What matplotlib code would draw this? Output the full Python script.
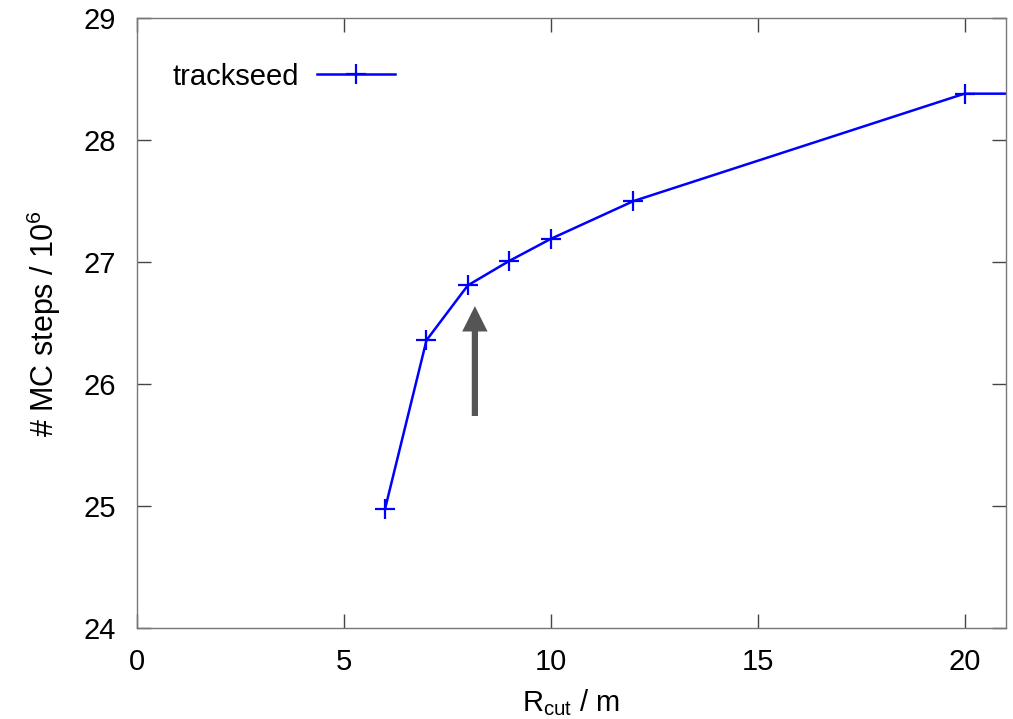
import matplotlib
matplotlib.use('Agg')
import matplotlib.pyplot as plt

plt.rcParams['font.family'] = ['Liberation Sans', 'DejaVu Sans']

# data
r_cut = [6, 7, 8, 9, 10, 12, 20, 30]
mc_steps = [24.98, 26.36, 26.81, 27.01, 27.19, 27.50, 28.38, 28.38]

fig = plt.figure(figsize=(10.13, 7.19), dpi=100)
ax = fig.add_axes([0.135, 0.126, 0.858, 0.849])

ax.plot(r_cut, mc_steps, color='#0000ff', lw=1.8, marker='+', ms=14, mew=1.6,
        label='trackseed')

# arrow pointing at the chosen R_cut
ax.annotate('', xy=(8.17, 26.64), xytext=(8.17, 25.74),
            arrowprops=dict(arrowstyle='-|>,head_length=1.1,head_width=0.55',
                            color='#555555', lw=4.5, shrinkA=0, shrinkB=0,
                            capstyle='butt', joinstyle='miter'))

ax.set_xlim(0, 21)
ax.set_ylim(24, 29)
ax.set_xticks([0, 5, 10, 15, 20])
ax.set_yticks([24, 25, 26, 27, 28, 29])

for s in ax.spines.values():
    s.set_color('#777777')
    s.set_linewidth(1)
ax.tick_params(direction='in', length=10, width=1, color='#444444',
               top=True, right=True, labelsize=21)
ax.tick_params(axis='x', pad=14)
ax.tick_params(axis='y', pad=15)

ax.set_xlabel(r'R$_{\mathregular{cut}}$ / m', fontsize=21, labelpad=8)
ax.set_ylabel(r'# MC steps / 10$^{\mathregular{6}}$', fontsize=22, labelpad=15)

ax.legend(loc='upper left', frameon=False, markerfirst=False, fontsize=21,
          handlelength=2.7, handletextpad=0.6, bbox_to_anchor=(0.011, 0.97))

fig.savefig('out.png', dpi=100)
